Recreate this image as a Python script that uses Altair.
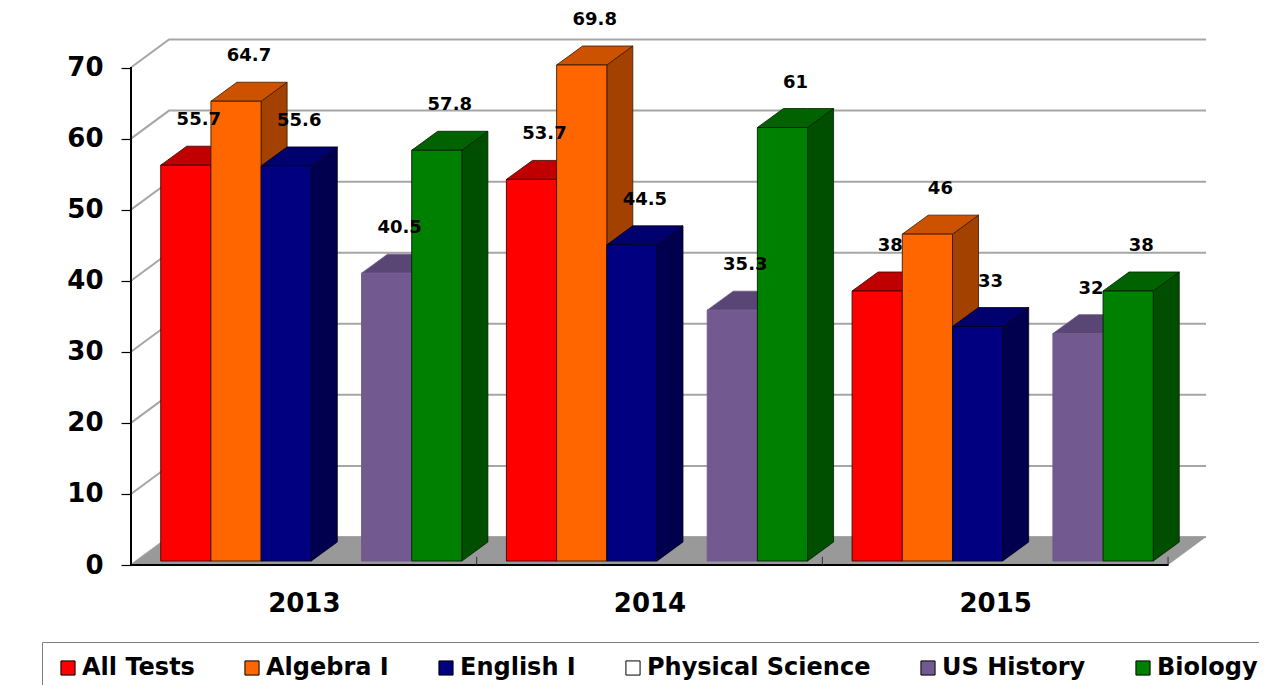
import json
import altair as alt
import pandas as pd

# ---------------- data ----------------
years = ["2013", "2014", "2015"]
series = ["All Tests", "Algebra I", "English I", "Physical Science", "US History", "Biology"]
all_tests = [55.7, 53.7, 38]
algebra_i = [64.7, 69.8, 46]
english_i = [55.6, 44.5, 33]
physical_science = [None, None, None]
us_history = [40.5, 35.3, 32]
biology = [57.8, 61, 38]
y_ticks = [0, 10, 20, 30, 40, 50, 60, 70]

front_colors = ["#FF0000", "#FF6600", "#000080", "#FFFFFF", "#725990", "#008000"]
top_colors = ["#C00000", "#CC5200", "#00006E", "#FFFFFF", "#5A4674", "#006200"]
side_colors = ["#9C0000", "#A34100", "#00004F", "#FFFFFF", "#4C3B63", "#004E00"]
edge_colors = ["#3A0000", "#3A1800", "#000020", "#000000", "#725990", "#002000"]

values = dict(zip(series, [all_tests, algebra_i, english_i, physical_science, us_history, biology]))

# ---------------- layout constants (pseudo-3D geometry) ----------------
GROUP_PAD = 0.086   # gap before first bar in a group
SLOT = 0.1452       # bar width (group = 1 unit)
DX = 0.0752         # bar depth, x direction
DY = 2.67           # bar depth, y direction (value units)
BASE = 0.56         # bars stand slightly behind the front edge of the floor
WDX = 0.11          # wall depth, x
WDY = 3.94          # wall depth, y
N = len(years)
FONT = "DejaVu Sans"

front_rows, side_rows, top_rows = [], [], []
for g, yr in enumerate(years):
    for s, name in enumerate(series):
        v = values[name][g]
        if v is None:
            continue
        bid = f"{yr}-{name}"
        xl = g + GROUP_PAD + s * SLOT
        xr = xl + SLOT
        top = v + BASE
        front_rows.append(dict(id=bid, series=name, xl=xl, xr=xr, lo=BASE, hi=top,
                               edge=edge_colors[s], lx=(xl + xr) / 2 + DX / 2,
                               ly=top + DY, label=f"{v:g}"))
        for x, lo, hi in [(xr, BASE, top), (xr + DX, BASE + DY, top + DY)]:
            side_rows.append(dict(id=bid, x=x, lo=lo, hi=hi, fill=side_colors[s], edge=edge_colors[s]))
        for x, lo, hi in [(xl, top, top), (xl + DX, top, top + DY),
                          (xr, top, top + DY), (xr + DX, top + DY, top + DY)]:
            top_rows.append(dict(id=bid, x=x, lo=lo, hi=hi, fill=top_colors[s], edge=edge_colors[s]))

front_df = pd.DataFrame(front_rows)
side_df = pd.DataFrame(side_rows)
top_df = pd.DataFrame(top_rows)

wall_rows = []
for t in y_ticks:
    for k, (x, y) in enumerate([(0, t), (WDX, t + WDY), (N + WDX, t + WDY)]):
        wall_rows.append(dict(tick=t, k=k, x=x, y=y))
wall_df = pd.DataFrame(wall_rows)

floor_df = pd.DataFrame([
    dict(x=0, lo=0, hi=0), dict(x=WDX, lo=0, hi=WDY),
    dict(x=N, lo=0, hi=WDY), dict(x=N + WDX, lo=WDY, hi=WDY)])

# ---------------- scales / axes ----------------
XS = alt.Scale(domain=[0, 3.13], nice=False, zero=False)
YS = alt.Scale(domain=[0, 75], nice=False, zero=False)
XA = alt.Axis(values=[g + 0.5 for g in range(N)],
              labelExpr=f"{json.dumps(years)}[floor(datum.value)]",
              ticks=False, domain=False, grid=False, title=None, labelFlush=False,
              labelFont=FONT, labelFontSize=26, labelFontWeight="bold",
              labelColor="black", labelPadding=25)
YA = alt.Axis(values=y_ticks, domain=False, grid=False, title=None,
              tickSize=10, tickColor="black", tickWidth=1.2,
              labelFont=FONT, labelFontSize=26, labelFontWeight="bold",
              labelColor="black", labelPadding=18)


def X(f):
    return alt.X(f, scale=XS, axis=XA)


def Y(f):
    return alt.Y(f, scale=YS, axis=YA)


base_front = alt.Chart(front_df)

floor = alt.Chart(floor_df).mark_area(color="#999999", opacity=1).encode(
    x=X("x:Q"), y=Y("lo:Q"), y2="hi:Q")

walls = alt.Chart(wall_df).mark_line(color="#A6A6A6", strokeWidth=2).encode(
    x=X("x:Q"), y=Y("y:Q"), detail="tick:N", order="k:Q")

y_line = alt.Chart(front_df).mark_rule(color="black", strokeWidth=1.5).encode(
    x=X("datum_x:Q"), y=Y("datum_y0:Q"), y2="datum_y1:Q"
).transform_calculate(datum_x="0", datum_y0="0", datum_y1=str(max(y_ticks)))

front_edge = alt.Chart(front_df).mark_rule(color="black", strokeWidth=2).encode(
    x=X("ex0:Q"), x2="ex1:Q", y=Y("ey:Q")
).transform_calculate(ex0="0", ex1=str(N), ey="0")

tick_df = pd.DataFrame(dict(x=list(range(1, N + 1)), lo=[0] * N, hi=[1.15] * N))
cat_ticks = alt.Chart(tick_df).mark_rule(color="#333333", strokeWidth=1).encode(
    x=X("x:Q"), y=Y("lo:Q"), y2="hi:Q")

sides = alt.Chart(side_df).mark_area(opacity=1, strokeWidth=0.8, interpolate="linear").encode(
    x=X("x:Q"), y=Y("lo:Q"), y2="hi:Q", detail="id:N",
    fill=alt.Fill("fill:N", scale=None), stroke=alt.Stroke("edge:N", scale=None))

tops = alt.Chart(top_df).mark_area(opacity=1, strokeWidth=0.8, interpolate="linear").encode(
    x=X("x:Q"), y=Y("lo:Q"), y2="hi:Q", detail="id:N",
    fill=alt.Fill("fill:N", scale=None), stroke=alt.Stroke("edge:N", scale=None))

fronts = base_front.mark_rect(strokeWidth=0.9).encode(
    x=X("xl:Q"), x2="xr:Q", y=Y("lo:Q"), y2="hi:Q",
    fill=alt.Fill("series:N", scale=alt.Scale(domain=series, range=front_colors),
                  legend=alt.Legend(title=None, orient="none", direction="horizontal",
                                    legendX=-89, legendY=610,
                                    symbolType="square", symbolSize=200,
                                    symbolStrokeColor="black", symbolStrokeWidth=1,
                                    labelFont=FONT, labelFontSize=24, labelFontWeight="bold",
                                    labelColor="black", labelOffset=2, columnPadding=45,
                                    padding=14, strokeColor="#808080", fillColor="white",
                                    labelLimit=400)),
    stroke=alt.Stroke("edge:N", scale=None))

labels = base_front.mark_text(font=FONT, fontSize=18, fontWeight="bold", color="black",
                              dy=-26, align="center", baseline="middle").encode(
    x=X("lx:Q"), y=Y("ly:Q"), text="label:N")

chart = alt.layer(walls, floor, y_line, front_edge, cat_ticks, sides, tops, fronts, labels).properties(
    width=1082, height=533,
    padding={"left": 123, "top": 24, "right": 46, "bottom": 120},
    autosize=alt.AutoSizeParams(type="none"),
    background="white",
).configure_view(stroke=None)

chart.save("out.html", embed_options={"renderer": "svg", "actions": False})
